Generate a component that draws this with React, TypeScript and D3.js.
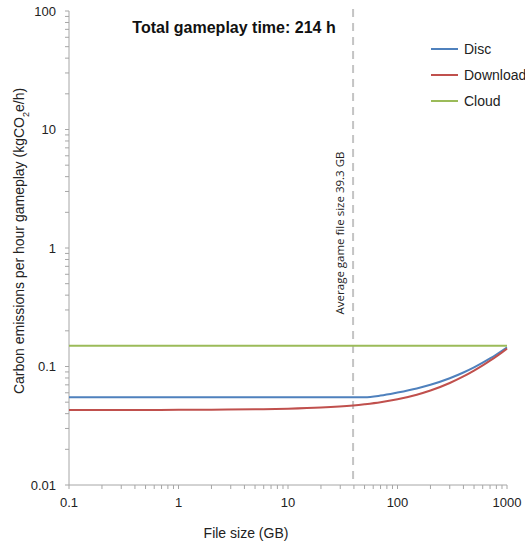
import React, { useEffect, useRef } from "react";
import * as d3 from "d3";

const fileSizes = [0.1, 0.2, 0.5, 1, 2, 5, 10, 20, 39.3, 50, 70, 100, 150, 200, 300, 400, 500, 600, 700, 800, 900, 1000];
const discValues = [0.055, 0.055, 0.055, 0.055, 0.055, 0.055, 0.055, 0.055, 0.055, 0.055, 0.0568, 0.0603, 0.0653, 0.0701, 0.0796, 0.089, 0.0983, 0.1077, 0.117, 0.1263, 0.1357, 0.145];
const downloadValues = [0.043, 0.043, 0.043, 0.0431, 0.0432, 0.0435, 0.044, 0.045, 0.0469, 0.048, 0.0499, 0.0529, 0.0578, 0.0627, 0.0726, 0.0824, 0.0923, 0.1021, 0.112, 0.1218, 0.1317, 0.1415];
const cloudValues = [0.15, 0.15, 0.15, 0.15, 0.15, 0.15, 0.15, 0.15, 0.15, 0.15, 0.15, 0.15, 0.15, 0.15, 0.15, 0.15, 0.15, 0.15, 0.15, 0.15, 0.15, 0.15];
const seriesNames = ["Disc", "Download", "Cloud"];
const seriesColors = ["#4f81bd", "#c0504d", "#9bbb59"];
const xTickValues = [0.1, 1, 10, 100, 1000];
const yTickValues = [0.01, 0.1, 1, 10, 100];
const avgFileSize = 39.3;

export default function App() {
  const ref = useRef<SVGSVGElement>(null);

  useEffect(() => {
    const svg = d3.select(ref.current);
    svg.selectAll("*").remove();
    const W = 525, H = 547;
    svg.attr("width", W).attr("height", H).style("font-family", "Liberation Sans, Arial, sans-serif");

    const x = d3.scaleLog().domain([0.1, 1000]).range([69, 507]);
    const y = d3.scaleLog().domain([0.01, 100]).range([485, 11]);
    const axisColor = "#a6a6a6";

    // minor ticks
    const minorY: number[] = [];
    const minorX: number[] = [];
    for (let e = -2; e < 2; e++) for (let k = 2; k < 10; k++) minorY.push(k * Math.pow(10, e));
    for (let e = -1; e < 3; e++) for (let k = 2; k < 10; k++) minorX.push(k * Math.pow(10, e));

    const g = svg.append("g");
    g.append("line").attr("x1", 69).attr("x2", 69).attr("y1", 11).attr("y2", 485).attr("stroke", axisColor);
    g.append("line").attr("x1", 69).attr("x2", 507).attr("y1", 485).attr("y2", 485).attr("stroke", axisColor);
    g.selectAll("line.ym").data(minorY.concat(yTickValues)).enter().append("line")
      .attr("x1", 65).attr("x2", 69).attr("y1", (d) => y(d)).attr("y2", (d) => y(d)).attr("stroke", axisColor);
    g.selectAll("line.xm").data(minorX.concat(xTickValues)).enter().append("line")
      .attr("y1", 485).attr("y2", 489).attr("x1", (d) => x(d)).attr("x2", (d) => x(d)).attr("stroke", axisColor);

    g.selectAll("text.yt").data(yTickValues).enter().append("text")
      .attr("x", 56).attr("y", (d) => y(d)).attr("dy", "0.35em").attr("text-anchor", "end")
      .style("font-size", "13px").attr("fill", "#222").text((d) => String(d));
    g.selectAll("text.xt").data(xTickValues).enter().append("text")
      .attr("x", (d) => x(d)).attr("y", 507).attr("text-anchor", "middle")
      .style("font-size", "13px").attr("fill", "#222").text((d) => String(d));

    svg.append("text").attr("x", 246).attr("y", 538).attr("text-anchor", "middle")
      .style("font-size", "14px").attr("fill", "#222").text("File size (GB)");

    const yl = svg.append("text").attr("transform", "translate(24,241) rotate(-90)").attr("text-anchor", "middle")
      .style("font-size", "14px").attr("fill", "#222");
    yl.append("tspan").text("Carbon emissions per hour gameplay (kgCO");
    yl.append("tspan").attr("baseline-shift", "sub").style("font-size", "9px").text("2");
    yl.append("tspan").text("e/h)");

    // average file size marker
    svg.append("line").attr("x1", x(avgFileSize)).attr("x2", x(avgFileSize)).attr("y1", 9).attr("y2", 485)
      .attr("stroke", "#c4c4c4").attr("stroke-width", 2).attr("stroke-dasharray", "8,6");
    svg.append("text").attr("transform", `translate(${x(avgFileSize) - 9},233) rotate(-90)`)
      .attr("text-anchor", "middle").style("font-family", "Open Sans, sans-serif").style("font-size", "11.5px")
      .attr("fill", "#222").text(`Average game file size ${avgFileSize} GB`);

    const line = d3.line<[number, number]>().x((d) => x(d[0])).y((d) => y(d[1])).curve(d3.curveMonotoneX);
    [discValues, downloadValues, cloudValues].forEach((vals, i) => {
      const pts = fileSizes.map((s, j) => [s, vals[j]] as [number, number]);
      svg.append("path").attr("d", line(pts)).attr("fill", "none").attr("stroke", seriesColors[i]).attr("stroke-width", 2);
    });

    svg.append("text").attr("x", 234).attr("y", 33).attr("text-anchor", "middle")
      .style("font-size", "16px").style("font-weight", "bold").attr("fill", "#111").text("Total gameplay time: 214 h");

    const lg = svg.append("g");
    seriesNames.forEach((n, i) => {
      const ly = 49 + i * 26;
      lg.append("line").attr("x1", 431).attr("x2", 458).attr("y1", ly).attr("y2", ly)
        .attr("stroke", seriesColors[i]).attr("stroke-width", 2);
      lg.append("text").attr("x", 464).attr("y", ly).attr("dy", "0.35em").style("font-size", "14px")
        .attr("fill", "#222").text(n);
    });
  }, []);

  return <svg ref={ref} style={{ display: "block", position: "absolute", left: 0, top: 0 }} />;
}
